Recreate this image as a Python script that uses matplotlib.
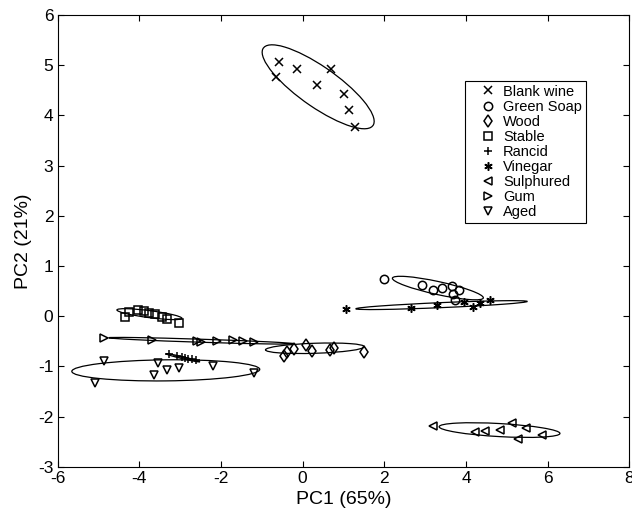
import matplotlib
matplotlib.use('Agg')
import matplotlib.pyplot as plt
from matplotlib.patches import Ellipse

plt.rcParams['font.family'] = ['Liberation Sans', 'DejaVu Sans']
plt.rcParams['axes.unicode_minus'] = False

# group names and markers
groups = ['Blank wine', 'Green Soap', 'Wood', 'Stable', 'Rancid',
          'Vinegar', 'Sulphured', 'Gum', 'Aged']
markers = ['x', 'o', 'd', 's', '+', (6, 2, 0), '<', '>', 'v']

# scores (PC1, PC2)
blank_x = [-0.58, -0.15, 0.70, -0.65, 0.36, 1.01, 1.13, 1.27]
blank_y = [5.07, 4.92, 4.92, 4.77, 4.60, 4.43, 4.10, 3.77]
soap_x = [2.00, 2.92, 3.19, 3.42, 3.65, 3.83, 3.68, 3.73]
soap_y = [0.75, 0.63, 0.52, 0.57, 0.60, 0.53, 0.44, 0.33]
wood_x = [-0.46, -0.38, -0.21, 0.08, 0.23, 0.67, 0.77, 1.49]
wood_y = [-0.80, -0.72, -0.66, -0.57, -0.70, -0.67, -0.64, -0.71]
stable_x = [-4.35, -4.25, -4.02, -3.88, -3.75, -3.62, -3.45, -3.32, -3.02]
stable_y = [-0.01, 0.08, 0.13, 0.10, 0.06, 0.05, -0.01, -0.05, -0.14]
rancid_x = [-3.28, -3.08, -2.96, -2.88, -2.80, -2.70, -2.62]
rancid_y = [-0.75, -0.80, -0.82, -0.84, -0.86, -0.85, -0.88]
vinegar_x = [1.05, 2.65, 3.28, 3.95, 4.18, 4.35, 4.58]
vinegar_y = [0.15, 0.17, 0.23, 0.28, 0.19, 0.26, 0.33]
sulph_x = [3.20, 4.22, 4.47, 4.82, 5.12, 5.27, 5.47, 5.87]
sulph_y = [-2.19, -2.30, -2.29, -2.26, -2.12, -2.44, -2.23, -2.36]
gum_x = [-4.87, -3.68, -2.58, -2.48, -2.10, -1.71, -1.45, -1.18]
gum_y = [-0.44, -0.47, -0.49, -0.51, -0.49, -0.47, -0.49, -0.51]
aged_x = [-4.87, -5.08, -3.55, -3.63, -3.33, -3.02, -2.20, -1.20]
aged_y = [-0.90, -1.33, -0.94, -1.17, -1.07, -1.04, -1.00, -1.13]

xs = [blank_x, soap_x, wood_x, stable_x, rancid_x, vinegar_x, sulph_x, gum_x, aged_x]
ys = [blank_y, soap_y, wood_y, stable_y, rancid_y, vinegar_y, sulph_y, gum_y, aged_y]

# confidence ellipses: centre, semi-axes, angle (data units / degrees)
ell_cx = [0.38, 3.31, 0.30, -3.75, -2.93, 3.40, 4.82, -2.48, -3.35]
ell_cy = [4.57, 0.56, -0.64, 0.04, -0.83, 0.22, -2.27, -0.49, -1.08]
ell_a = [1.55, 1.13, 1.21, 0.80, 0.42, 2.10, 1.48, 2.27, 2.30]
ell_b = [0.42, 0.13, 0.10, 0.07, 0.02, 0.05, 0.13, 0.03, 0.21]
ell_ang = [-29.0, -10.0, 1.5, -6.0, -11.0, 2.0, -2.6, -1.5, 0.5]

fig = plt.figure(figsize=(6.32, 5.18), dpi=100)
ax = fig.add_axes([0.091, 0.099, 0.905, 0.872])

for i, name in enumerate(groups):
    m = markers[i]
    filled = m in ['x', '+', (6, 2, 0)]
    ax.plot(xs[i], ys[i], linestyle='none', marker=m, markersize=6,
            markerfacecolor='k' if filled else 'none',
            markeredgecolor='k', markeredgewidth=1.1, color='k', label=name)
    ax.add_patch(Ellipse((ell_cx[i], ell_cy[i]), 2 * ell_a[i], 2 * ell_b[i],
                         angle=ell_ang[i], fill=False, edgecolor='k', lw=0.9))

ax.set_xlim(-6, 8)
ax.set_ylim(-3, 6)
ax.set_xticks(range(-6, 9, 2))
ax.set_yticks(range(-3, 7))
ax.tick_params(direction='in', top=True, right=True, labelsize=12.5, length=4, pad=3)
ax.set_xlabel('PC1 (65%)', fontsize=14, labelpad=4)
ax.set_ylabel('PC2 (21%)', fontsize=14, labelpad=4)

leg = ax.legend(loc='upper left', bbox_to_anchor=(0.713, 0.855), fontsize=10.5,
                frameon=True, fancybox=False, framealpha=1, edgecolor='k',
                borderpad=0.28, labelspacing=0.07, handlelength=2.5,
                handletextpad=-0.2, borderaxespad=0, markerscale=1.0)
leg.get_frame().set_linewidth(0.8)

fig.savefig('out.png', dpi=100)
